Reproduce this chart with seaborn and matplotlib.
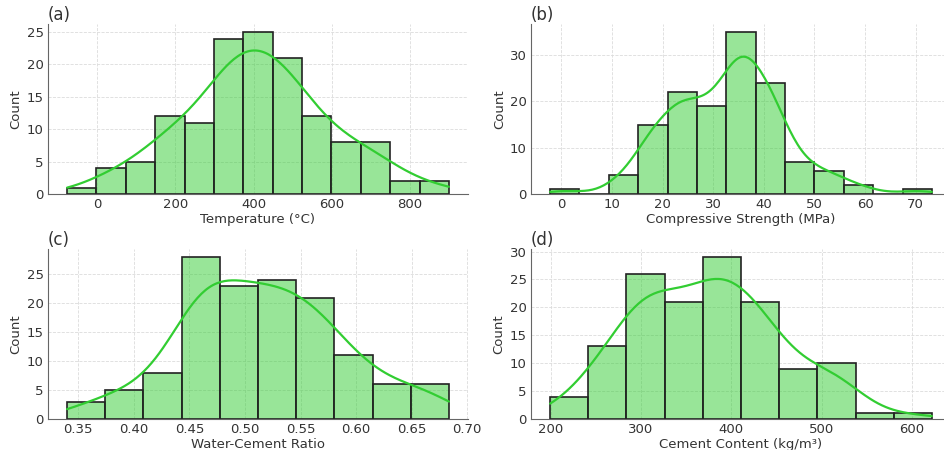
import numpy as np
import pandas as pd
import matplotlib
matplotlib.use("Agg")
import matplotlib.pyplot as plt
from matplotlib.ticker import MultipleLocator
import seaborn as sns

# ---- data (histogram counts per bin) ----
temp_range = (-77.0, 900.0)
temp_counts = [1, 4, 5, 12, 11, 24, 25, 21, 12, 8, 8, 2, 2]

strength_range = (-2.2, 73.2)
strength_counts = [1, 0, 4, 15, 22, 19, 35, 24, 7, 5, 2, 0, 1]

wc_range = (0.340, 0.6835)
wc_counts = [3, 5, 8, 28, 23, 24, 21, 11, 6, 6]

cement_range = (199.3, 622.0)
cement_counts = [4, 13, 26, 21, 29, 21, 9, 10, 1, 1]

panel_titles = ["(a)", "(b)", "(c)", "(d)"]
x_labels = ["Temperature (°C)", "Compressive Strength (MPa)",
            "Water-Cement Ratio", "Cement Content (kg/m³)"]
y_steps = [5, 10, 5, 5]

# ---- style ----
sns.set_style("whitegrid", {
    "grid.color": "#dcdcdc",
    "grid.linestyle": "--",
    "axes.edgecolor": "#666666",
    "axes.labelcolor": "#333333",
    "text.color": "#333333",
    "xtick.color": "#333333",
    "ytick.color": "#333333",
})
plt.rcParams["font.family"] = ["DejaVu Sans"]
plt.rcParams["grid.linewidth"] = 0.6

fig = plt.figure(figsize=(9.44, 4.5), dpi=100)
W, H = 944.0, 450.0

def pos(l, r, t, b):
    return [l / W, 1 - b / H, (r - l) / W, (b - t) / H]

axes = [
    fig.add_axes(pos(48, 468, 24, 194)),
    fig.add_axes(pos(531, 951, 24, 194)),
    fig.add_axes(pos(48, 468, 249, 419)),
    fig.add_axes(pos(531, 951, 249, 419)),
]

datasets = [
    (temp_range, temp_counts, 0.60),
    (strength_range, strength_counts, 0.46),
    (wc_range, wc_counts, 0.55),
    (cement_range, cement_counts, 0.55),
]

for ax, (rng, counts, bwa), title, xl, ys in zip(axes, datasets, panel_titles,
                                                 x_labels, y_steps):
    edges = np.linspace(rng[0], rng[1], len(counts) + 1)
    centers = (edges[:-1] + edges[1:]) / 2
    df = pd.DataFrame({"x": centers, "w": counts})
    sns.histplot(data=df, x="x", weights="w", bins=len(counts), binrange=rng,
                 kde=True, color="limegreen", edgecolor="#222222", linewidth=1.2,
                 kde_kws={"bw_adjust": bwa, "cut": 3, "clip": (rng[0], rng[1])},
                 line_kws={"linewidth": 1.6}, ax=ax)
    ax.set_xlabel(xl, fontsize=9.5, labelpad=1)
    ax.set_ylabel("Count", fontsize=9.5, labelpad=3)
    ax.set_title(title, loc="left", fontsize=12, pad=3)
    ax.tick_params(axis="both", length=0, labelsize=9.5, pad=3)
    ax.yaxis.set_major_locator(MultipleLocator(ys))
    sns.despine(ax=ax)
    ax.set_axisbelow(True)

fig.savefig("out.png", dpi=100)
